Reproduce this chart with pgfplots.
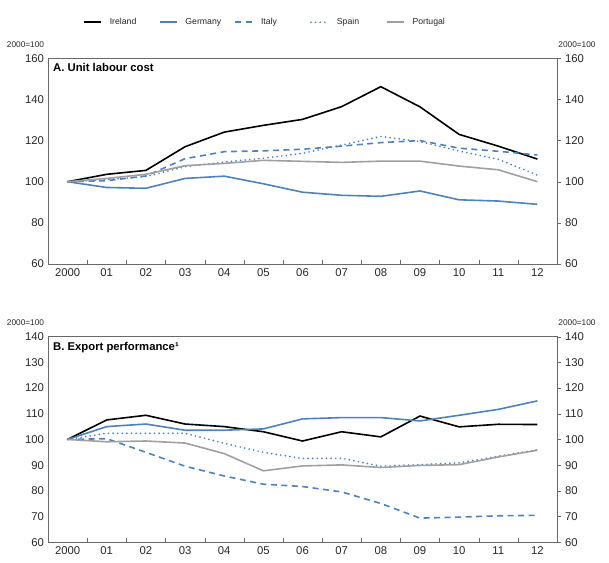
\documentclass[border=0pt]{standalone}
\usepackage{pgfplots}
\usepackage{pgfplotstable}
\pgfplotsset{compat=1.18}
\usepackage{fontspec}
\setmainfont{Liberation Sans}

\definecolor{oblue}{RGB}{79,129,189}
\definecolor{ogrey}{RGB}{160,160,160}
\definecolor{framec}{RGB}{105,105,105}

% Panel A: unit labour cost, 2000=100
\pgfplotstableread{
yr Ireland Germany Italy Spain Portugal
0  100   100  100   100   100
1  103.6 97.2 100.5 101.0 101.6
2  105.5 96.8 102.8 102.5 103.6
3  117.0 101.6 111.2 107.3 107.8
4  124.1 102.7 114.6 109.6 108.9
5  127.4 99.0 115.0 111.4 110.4
6  130.3 94.9 115.8 113.8 109.9
7  136.5 93.4 117.3 117.8 109.4
8  146.2 92.9 119.0 122.0 110.0
9  136.4 95.5 120.0 119.5 110.0
10 123.0 91.2 116.3 114.9 107.6
11 117.3 90.6 114.8 110.9 105.8
12 111.0 89.0 113.0 103.2 100.0
}\tabA

% Panel B: export performance, 2000=100
\pgfplotstableread{
yr Ireland Germany Italy Spain Portugal
0  100   100   100   100   100
1  107.6 105.0 100.3 102.4 99.1
2  109.4 106.0 95.0  102.4 99.4
3  106.0 103.6 89.6  102.4 98.6
4  105.0 103.6 85.8  98.5  94.5
5  103.0 104.1 82.6  95.0  87.8
6  99.4  108.0 81.7  92.6  89.7
7  103.0 108.5 79.6  92.7  90.1
8  101.0 108.5 75.1  89.6  89.1
9  109.1 107.2 69.4  90.2  89.9
10 104.9 109.4 69.8  90.9  90.2
11 105.9 111.7 70.3  93.5  93.2
12 105.8 115.0 70.5  96.0  95.8
}\tabB

\tikzset{
  unitlab/.style={font=\fontsize{8.3}{10}\selectfont, text=black!85, inner sep=0pt},
  ire/.style={black, line width=1.6pt},
  ger/.style={oblue, line width=1.6pt},
  ita/.style={oblue, line width=1.6pt, dash pattern=on 6pt off 4.5pt},
  spa/.style={oblue, line width=1.9pt, line cap=round, dash pattern=on 0pt off 4.6pt},
  por/.style={ogrey, line width=1.6pt},
}

\pgfplotsset{
  panel/.style={
    scale only axis, width=509pt, height=205.7pt,
    xmin=-0.5, xmax=12.5,
    xtick={0.5,1.5,...,12.5}, xticklabels={},
    extra x ticks={0,...,12},
    extra x tick labels={2000,01,02,03,04,05,06,07,08,09,10,11,12},
    extra x tick style={major tick length=0pt},
    xtick pos=bottom, x tick style={draw=framec},
    xtick align=inside, major tick length=4pt,
    ytick pos=left, y tick style={draw=none},
    axis line style={draw=framec, line width=0.8pt},
    /pgf/number format/assume math mode=true,
    tick label style={font=\fontsize{11.3}{13}\selectfont, text=black!85},
    xticklabel style={yshift=-1pt},
    yticklabel style={xshift=-0.5pt},
    clip=false,
  },
  rpanel/.style={
    scale only axis, width=509pt, height=205.7pt,
    xmin=-0.5, xmax=12.5,
    axis x line=none, axis y line*=right,
    ytick align=outside, y tick style={draw=framec}, major tick length=4pt,
    axis line style={draw=framec, line width=0.8pt},
    /pgf/number format/assume math mode=true,
    tick label style={font=\fontsize{11.3}{13}\selectfont, text=black!85},
    yticklabel style={xshift=0.5pt},
    clip=false,
  },
}

\begin{document}
\begin{tikzpicture}
\useasboundingbox (0,0) rectangle (609pt,562pt);

% ---------- Panel A ----------
\begin{axis}[panel, at={(48pt,298pt)}, anchor=south west,
  ymin=60, ymax=160, ytick={60,80,...,160},
  legend columns=5,
  legend style={at={(0.0688,1.175)}, anchor=west, draw=none, fill=none,
    inner sep=0pt, font=\fontsize{8.7}{10}\selectfont,
    nodes={inner sep=0pt, text=black!85},
    /tikz/every odd column/.append style={column sep=8pt}},
  legend image code/.code={\draw[#1] (0pt,0pt) -- (17pt,0pt);},
]
\addplot[ire] table[x=yr, y=Ireland] {\tabA};
\addlegendentry{\makebox[49pt][l]{Ireland}}
\addplot[ger] table[x=yr, y=Germany] {\tabA};
\addlegendentry{\makebox[49pt][l]{Germany}}
\addplot[ita] table[x=yr, y=Italy] {\tabA};
\addlegendentry{\makebox[49pt][l]{Italy}}
\addplot[spa] table[x=yr, y=Spain] {\tabA};
\addlegendentry{\makebox[49pt][l]{Spain}}
\addplot[por] table[x=yr, y=Portugal] {\tabA};
\addlegendentry{\makebox[49pt][l]{Portugal}}
\node[anchor=north west, inner sep=0pt, font=\bfseries\fontsize{11.3}{13}\selectfont]
  at ([xshift=5pt,yshift=-5pt]rel axis cs:0,1) {A. Unit labour cost};
\node[unitlab] at ([xshift=-22.5pt,yshift=13.8pt]rel axis cs:0,1) {2000=100};
\end{axis}
\begin{axis}[rpanel, at={(48pt,298pt)}, anchor=south west,
  ymin=60, ymax=160, ytick={60,80,...,160}]
\node[unitlab] at ([xshift=20pt,yshift=13.8pt]rel axis cs:1,1) {2000=100};
\end{axis}

% ---------- Panel B ----------
\begin{axis}[panel, at={(48pt,19.7pt)}, anchor=south west,
  ymin=60, ymax=140, ytick={60,70,...,140}]
\addplot[ire] table[x=yr, y=Ireland] {\tabB};
\addplot[ger] table[x=yr, y=Germany] {\tabB};
\addplot[ita] table[x=yr, y=Italy] {\tabB};
\addplot[spa] table[x=yr, y=Spain] {\tabB};
\addplot[por] table[x=yr, y=Portugal] {\tabB};
\node[anchor=north west, inner sep=0pt, font=\bfseries\fontsize{11.3}{13}\selectfont]
  at ([xshift=5pt,yshift=-5pt]rel axis cs:0,1) {B. Export performance¹};
\node[unitlab] at ([xshift=-22.5pt,yshift=13.8pt]rel axis cs:0,1) {2000=100};
\end{axis}
\begin{axis}[rpanel, at={(48pt,19.7pt)}, anchor=south west,
  ymin=60, ymax=140, ytick={60,70,...,140}]
\node[unitlab] at ([xshift=20pt,yshift=13.8pt]rel axis cs:1,1) {2000=100};
\end{axis}
\end{tikzpicture}
\end{document}
